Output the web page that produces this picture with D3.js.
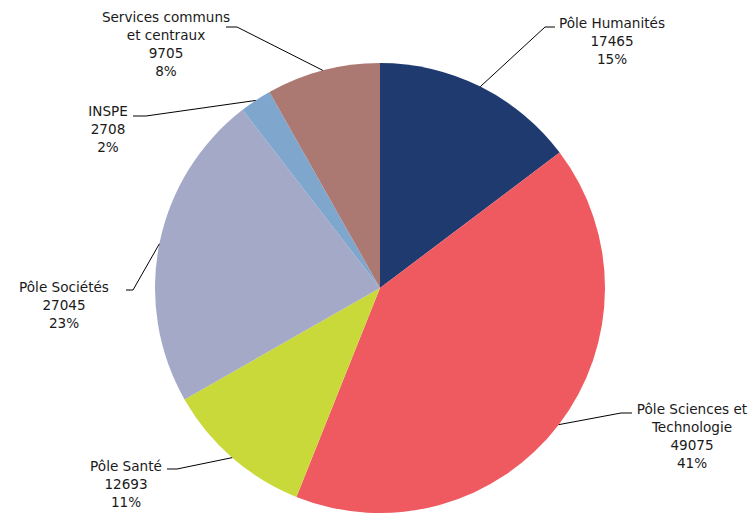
<!DOCTYPE html>
<html>
<head>
<meta charset="utf-8">
<script src="https://cdn.jsdelivr.net/npm/d3@7"></script>
<style>
  body { margin: 0; background: #fff; }
  text { font-family: "DejaVu Sans", Verdana, sans-serif; font-size: 13.6px; fill: #1a1a1a; }
</style>
</head>
<body>
<div id="chart"></div>
<script>
// data, clockwise from 12 o'clock
const categories = ["Pôle Humanités", "Pôle Sciences et Technologie", "Pôle Santé", "Pôle Sociétés", "INSPE", "Services communs et centraux"];
const values = [17465, 49075, 12693, 27045, 2708, 9705];
const labelLines = [
  ["Pôle Humanités"],
  ["Pôle Sciences et", "Technologie"],
  ["Pôle Santé"],
  ["Pôle Sociétés"],
  ["INSPE"],
  ["Services communs", "et centraux"]
];
const colors = ["#1f3a6f", "#ef5a61", "#c9d93a", "#a3a9c7", "#7fa7ce", "#ac7872"];

// label layout: elbow of leader, end of short horizontal, text centre x, first baseline
const labelPos = [
  { elbow: [545, 27], end: [555, 27], tx: 612, ty: 28 },
  { elbow: [621, 413], end: [632, 413], tx: 692, ty: 414 },
  { elbow: [177, 469], end: [167, 469], tx: 126, ty: 471 },
  { elbow: [133, 290], end: [126, 290], tx: 64, ty: 292 },
  { elbow: [146, 116], end: [133, 116], tx: 108, ty: 116 },
  { elbow: [237, 27], end: [226, 27], tx: 166, ty: 22 }
];
const lineH = 18;

const width = 751, height = 515;
const cx = 380, cy = 288, r = 225;

const svg = d3.select("#chart").append("svg")
  .attr("width", width)
  .attr("height", height);

const g = svg.append("g").attr("transform", `translate(${cx},${cy})`);

const data = categories.map((c, i) => ({ name: c, value: values[i], i: i }));
const total = d3.sum(values);

const pie = d3.pie().sort(null).value(d => d.value);
const arcs = pie(data);

const arc = d3.arc().innerRadius(0).outerRadius(r);
const edge = d3.arc().innerRadius(r).outerRadius(r);

g.selectAll("path.slice")
  .data(arcs)
  .join("path")
  .attr("class", "slice")
  .attr("d", arc)
  .attr("fill", d => colors[d.data.i]);

// leader lines
svg.selectAll("polyline.leader")
  .data(arcs)
  .join("polyline")
  .attr("class", "leader")
  .attr("fill", "none")
  .attr("stroke", "#000")
  .attr("stroke-width", 1)
  .attr("points", d => {
    const p = edge.centroid(d);
    const lp = labelPos[d.data.i];
    return [[p[0] + cx, p[1] + cy], lp.elbow, lp.end].map(q => q.join(",")).join(" ");
  });

// labels
const labels = svg.selectAll("text.label")
  .data(arcs)
  .join("text")
  .attr("class", "label")
  .attr("text-anchor", "middle");

labels.each(function (d) {
  const lp = labelPos[d.data.i];
  const lines = labelLines[d.data.i].concat([
    String(d.data.value),
    Math.round(d.data.value / total * 100) + "%"
  ]);
  d3.select(this).selectAll("tspan")
    .data(lines)
    .join("tspan")
    .attr("x", lp.tx)
    .attr("y", (l, k) => lp.ty + k * lineH)
    .text(l => l);
});
</script>
</body>
</html>
